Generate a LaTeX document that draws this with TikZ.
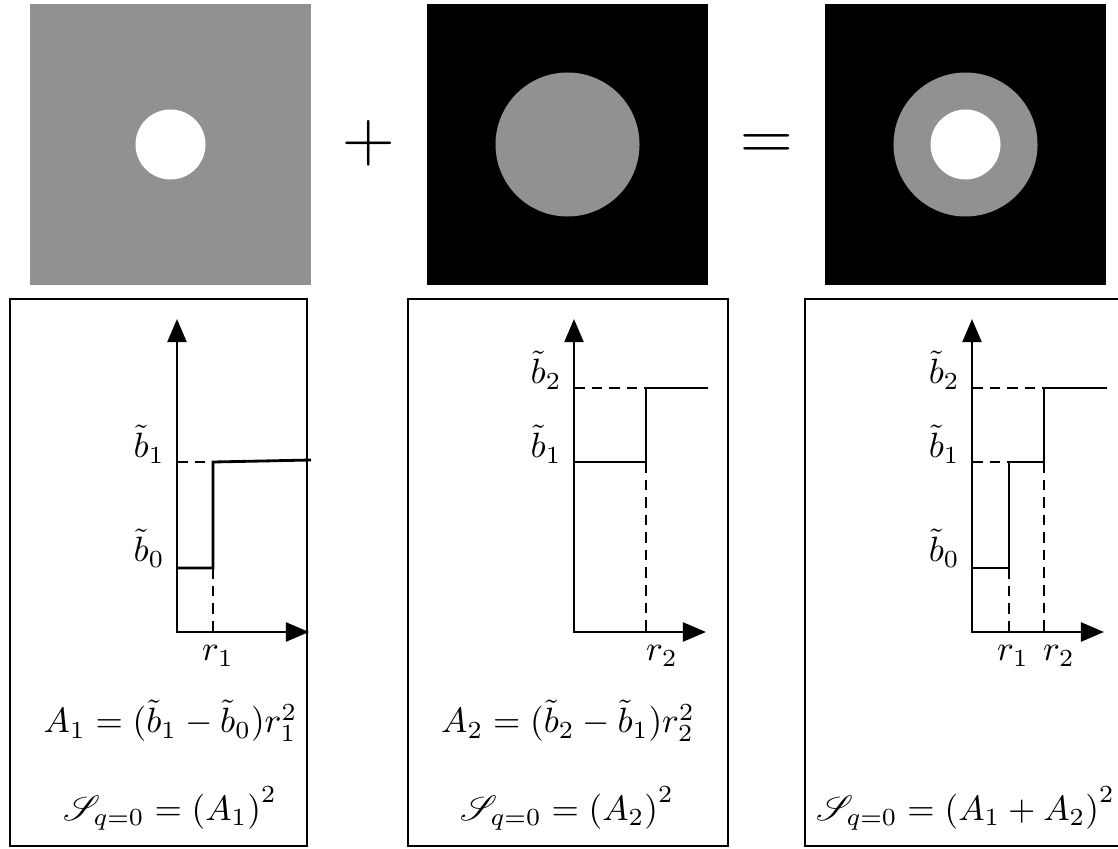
\documentclass[tikz,border=0pt]{standalone}
\usepackage{amsmath}
\usepackage{mathrsfs}
\usetikzlibrary{arrows.meta}
\definecolor{imggray}{gray}{0.57}

\begin{document}
\begin{tikzpicture}[
  panel/.style={line width=0.8pt},
  axes/.style={line width=0.8pt,{Triangle[length=6.6pt,width=5.4pt]}-{Triangle[length=6.6pt,width=5.4pt]}},
  stepline/.style={line width=0.8pt},
  guide/.style={line width=0.8pt,dash pattern=on 3pt off 2pt},
  bigsign/.style={font=\fontsize{20.74}{24}\selectfont}
]
  \useasboundingbox (0,0) rectangle (11.18,8.48);
  \clip (0,0) rectangle (11.18,8.48);
  % Images
  \fill[imggray] (0.30,5.63) rectangle (3.11,8.44);
  \fill[white] (1.705,7.035) circle (0.35);
  \fill[black] (4.27,5.63) rectangle (7.08,8.44);
  \fill[imggray] (5.675,7.035) circle (0.72);
  \fill[black] (8.25,5.63) rectangle (11.06,8.44);
  \fill[imggray] (9.655,7.035) circle (0.72);
  \fill[white] (9.655,7.035) circle (0.35);
  \node[bigsign] (plus) at (3.69,7.05) {$+$};
  \node[bigsign] (equals) at (7.665,7.00) {$=$};
  % Panel boxes
  \draw[panel] (0.10,0.02) rectangle (3.07,5.49);
  \draw[panel] (4.08,0.02) rectangle (7.28,5.49);
  \draw[panel] (8.05,0.02) rectangle (11.30,5.49);
  % First profile
  \draw[axes] (1.77,5.29) -- (1.77,2.16) -- (3.09,2.16);
  \draw[stepline] (1.77,2.80) -- (2.13,2.80) -- (2.13,3.86) -- (3.11,3.88);
  \draw[guide] (1.77,3.86) -- (2.13,3.86);
  \draw[guide] (2.13,2.80) -- (2.13,2.16);
  \node[left] (bone) at (1.77,4.04) {$\tilde{b}_1$};
  \node[left] (bzero) at (1.77,3.00) {$\tilde{b}_0$};
  \node (rone) at (2.18,1.92) {$r_1$};
  \node (Aone) at (1.705,1.27) {$A_1 = (\tilde{b}_1 - \tilde{b}_0) r_1^2$};
  \node (Sone) at (1.70,0.395) {$\mathscr{S}_{q=0} = \left(A_1\right)^2$};
  % Second profile
  \draw[axes] (5.74,5.29) -- (5.74,2.16) -- (7.06,2.16);
  \draw[stepline] (5.74,3.86) -- (6.46,3.86) -- (6.46,4.60) -- (7.08,4.60);
  \draw[guide] (5.74,4.60) -- (6.46,4.60);
  \draw[guide] (6.46,3.86) -- (6.46,2.16);
  \node[left] (btwo) at (5.74,4.78) {$\tilde{b}_2$};
  \node[left] (bone2) at (5.74,4.04) {$\tilde{b}_1$};
  \node (rtwo) at (6.62,1.92) {$r_2$};
  \node (Atwo) at (5.68,1.27) {$A_2 = (\tilde{b}_2 - \tilde{b}_1) r_2^2$};
  \node (Stwo) at (5.67,0.395) {$\mathscr{S}_{q=0} = \left(A_2\right)^2$};
  % Sum profile
  \draw[axes] (9.72,5.29) -- (9.72,2.16) -- (11.04,2.16);
  \draw[stepline] (9.72,2.80) -- (10.09,2.80) -- (10.09,3.86) -- (10.44,3.86)
    -- (10.44,4.60) -- (11.07,4.60);
  \draw[guide] (9.72,4.60) -- (10.44,4.60);
  \draw[guide] (9.72,3.86) -- (10.09,3.86);
  \draw[guide] (10.09,2.80) -- (10.09,2.16);
  \draw[guide] (10.44,3.86) -- (10.44,2.16);
  \node[left] (btwo3) at (9.72,4.78) {$\tilde{b}_2$};
  \node[left] (bone3) at (9.72,4.04) {$\tilde{b}_1$};
  \node[left] (bzero3) at (9.72,3.00) {$\tilde{b}_0$};
  \node (rone3) at (10.13,1.92) {$r_1$};
  \node (rtwo3) at (10.59,1.92) {$r_2$};
  \node (Ssum) at (9.655,0.395) {$\mathscr{S}_{q=0} = \left(A_1 + A_2\right)^2$};
\end{tikzpicture}
\end{document}
